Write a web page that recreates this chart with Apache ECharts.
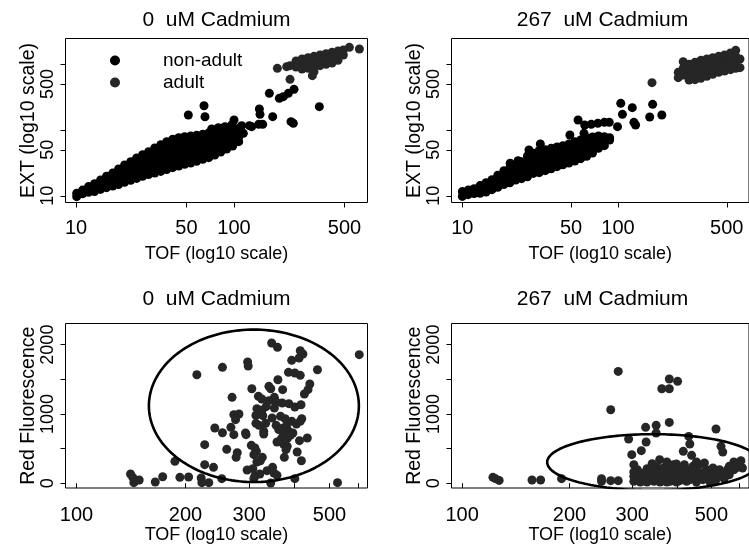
<!DOCTYPE html>
<html><head><meta charset="utf-8">
<script src="https://cdn.jsdelivr.net/npm/echarts@6/dist/echarts.min.js"></script>
<style>html,body{margin:0;padding:0;background:#fff}#c{width:749px;height:556px}</style>
</head><body><div id="c"></div>
<script>
// ---------------- tick values ----------------
const tofTopLabels = [10, 50, 100, 500];
const tofTopTicks = [10, 50, 100, 500];
const extLabels = [10, 50, 500];
const extTicks = [10, 50, 100, 500, 1000];
const tofBottomLabels = [100, 200, 300, 500];
const tofBottomTicks = [100, 200, 300, 400, 500, 600];
const redLabels = [0, 1000, 2000];
const redTicks = [0, 500, 1000, 1500, 2000];

// ---------------- 0 uM : TOF vs EXT ----------------
// dense non-adult cloud, read column by column (TOF, list of EXT)
const cd0CloudTof = [10.1, 11.0, 12.0, 13.1, 14.3, 15.6, 17.1, 18.6, 20.3, 22.2, 24.2, 26.4, 28.8, 31.5, 34.4, 37.5, 40.9, 44.7, 48.7, 53.2, 58.0, 63.4, 69.2, 75.5, 82.4, 89.9, 98.1, 107.1, 114.6];
const cd0CloudExt = [
  [10.9, 9.7], [12.2, 10.7], [13.8, 11.3], [15.3, 13.0, 11.6], [17.4, 14.6, 12.5],
  [19.8, 16.2, 13.3], [22.2, 18.4, 15.5, 14.1], [25.5, 21.2, 17.6, 14.8], [29.4, 24.1, 19.8, 16.0],
  [33.0, 27.7, 23.3, 19.5, 17.2], [37.5, 31.2, 25.8, 21.9, 18.4], [42.2, 35.0, 29.0, 24.1, 19.8],
  [46.9, 38.4, 31.5, 25.8, 21.0], [53.3, 43.2, 35.0, 27.7, 22.2], [59.8, 49.7, 41.2, 34.2, 28.4, 23.5],
  [66.5, 54.5, 44.7, 36.7, 30.1, 25.0], [72.2, 59.2, 48.5, 39.8, 32.6, 26.8], [76.4, 62.7, 51.4, 42.2, 34.6, 28.4],
  [79.2, 64.9, 53.3, 43.7, 36.2, 30.1], [81.1, 67.3, 55.8, 46.3, 38.4, 31.5], [83.0, 68.9, 57.1, 47.4, 39.3, 33.4],
  [85.9, 71.3, 59.2, 49.7, 41.7, 35.8], [90.0, 75.6, 63.5, 53.3, 44.7, 38.0], [95.4, 80.1, 67.3, 56.5, 48.5, 41.7],
  [98.9, 84.0, 71.3, 60.6, 52.0, 46.3], [102.4, 87.0, 73.0, 61.3, 51.4], [103.6, 89.0, 76.4, 65.7, 57.1],
  [106.0, 91.1, 78.3, 66.5], [89.0]
];
const cd0NonAdultExtra = [[51.4,169],[64.6,234],[65.5,159],[72.2,103.6],[79.6,108.5],[87.7,112.4],[96.7,119.1],[100,141.9],[111.8,116.4],[125.1,116.4],[129.4,112.4],[144.7,208.5],[146.1,173],[143.3,121.9],[151.9,121.9],[175.7,159.4],[167.4,360.8],[193.6,302.9],[205.3,321.1],[220.8,360.8],[239.8,415],[229.5,133.8],[237.4,126.3],[346.8,226.2]];
const cd0AdultTof = [226.2, 246.9, 269.5, 294.1, 320.9, 350.4, 382.3, 417.3, 455.3, 492.1];
const cd0AdultExt = [[950],[1119, 907],[1200, 995, 846],[1257, 1043, 865],[1317, 1093, 907, 770],[1380, 1145, 950],[1446, 1200, 995],[1515, 1257, 1043],[1587, 1348, 1145],[1644, 1380]];
const cd0AdultExtra = [[226.2,588.8],[188.1,865.3],[215.5,917.5],[313.3,669.6],[537.2,1804],[621.6,1702]];

// ---------------- 267 uM : TOF vs EXT ----------------
const cd267CloudTof = [10.0, 10.9, 11.9, 13.0, 14.2, 15.5, 16.9, 18.5, 20.2, 22.0, 24.0, 26.2, 28.6, 31.2, 34.1, 37.2, 40.6, 44.3, 48.4, 52.8, 57.6, 62.9, 68.6, 74.9, 81.8, 88.4];
const cd267CloudExt = [
  [11.6, 9.8], [12.2, 10.4], [12.8, 10.8], [14.3, 12.2, 10.9], [15.8, 13.5, 11.4],
  [17.6, 14.8, 12.4], [20.5, 16.6, 13.5], [24.1, 18.9, 14.8], [26.5, 20.5, 15.8],
  [28.7, 22.5, 17.4], [33.0, 26.2, 21.4, 18.2], [40.3, 31.9, 24.7, 19.5], [44.2, 35.0, 27.7, 21.9],
  [49.1, 39.3, 31.2, 25.3, 22.5], [50.2, 41.2, 33.8, 27.7, 24.1], [52.6, 43.2, 35.8, 29.7, 25.8],
  [55.2, 45.8, 38.0, 31.9, 27.7], [57.8, 48.5, 40.7, 34.6, 29.7], [61.3, 51.4, 43.2, 36.7, 31.5],
  [66.5, 55.8, 46.9, 39.3, 33.8], [70.5, 59.2, 49.7, 42.7, 36.7], [75.6, 63.5, 53.3, 45.8, 39.8],
  [78.3, 67.3, 55.8, 44.7], [81.1, 68.9, 59.2, 52.6], [79.2, 67.3, 57.8], [76.4, 70.5]
];
const cd267NonAdultExtra = [[20.3,31.2],[22.8,34.2],[26.8,49.7],[31.7,61.3],[49.1,84.0],[60.5,89.0],[55.4,141.9],[61.1,119.1],[67.3,121.9],[74.2,126.3],[81.8,130.8],[87.9,130.8],[99.3,112.4],[104.2,254.3],[106.8,173.0],[123.6,218.5],[126.6,130.8],[129.7,119.1],[167.0,245.5],[159.9,157.6],[191.3,169.0]];
const cd267AdultTof = [243.9, 262.4, 286.3, 312.6, 341.0, 372.2, 406.2, 443.5, 483.9, 528.1, 570.8, 608.1];
const cd267AdultExt = [[752, 624],[1093, 865, 685],[995, 807, 654, 575],[1068, 865, 702, 582],[1145, 928, 752, 610],[1200, 972, 788, 654],[1257, 1019, 826, 702],[1317, 1068, 865, 752],[1380, 1119, 907, 788],[1480, 1200, 972, 826],[1625, 1317, 1068, 865],[1200, 886]];
const cd267AdultExtra = [[165.4,524.1]];

// ---------------- TOF vs Red Fluorescence ----------------
const cd0Red = [[141,133],[143,85],[146,37],[149,46],[144,8],[165,17],[173,94],[193,85],[204,90],[221,75],[222,8],[232,8],[252,66],[187,316],[226,268],[239,229],[215,1566],[253,1672],[297,1749],[298,1691],[346,2023],[359,1961],[415,1913],[422,1865],[412,1807],[393,1773],[463,1638],[385,1600],[401,1590],[415,1557],[441,1432],[436,1350],[426,1287],[360,1494],[340,1398],[344,1364],[371,1350],[305,1364],[269,1239],[318,1254],[325,1215],[340,1191],[352,1239],[356,1172],[370,1157],[386,1148],[401,1100],[417,1133],[315,1076],[325,1052],[334,1105],[352,1085],[272,989],[281,999],[275,917],[313,979],[327,975],[347,941],[366,965],[377,931],[393,893],[405,854],[415,893],[419,931],[241,797],[253,729],[267,806],[272,701],[293,725],[294,701],[313,864],[319,835],[333,864],[329,749],[329,710],[356,835],[362,773],[372,797],[380,821],[386,749],[390,691],[396,725],[373,701],[368,643],[358,595],[382,643],[413,614],[434,652],[226,556],[260,489],[278,441],[276,373],[304,547],[311,508],[314,460],[309,412],[326,373],[322,325],[315,306],[373,566],[382,532],[379,484],[407,450],[375,373],[418,325],[348,229],[336,181],[351,147],[358,114],[307,210],[296,191],[311,104],[321,133],[309,66],[344,3],[401,66],[526,8],[604,1855]];
const cd267Red = [[122,85],[124,66],[127,41],[157,46],[166,46],[190,66],[246,66],[246,27],[261,37],[274,37],
  [274,1614],[261,1061],[381,1504],[402,1470],[363,1364],[381,1364],[381,878],[350,835],[327,806],[350,724],[515,782],[293,638],[328,595],[318,470],[299,412],[303,268],[432,676],[435,566],[532,532],[538,450],[417,460],[440,402],[444,244],[420,268],[341,282],[358,340],[375,306],[391,268],[399,277],[403,220],[454,306],[463,268],[478,292],[578,306],[605,325],[585,220],[555,195],[532,162],
  [303,162],[303,99],[303,27],[310,195],[310,51],[316,147],[316,75],[316,17],[323,123],[323,37],[330,210],[330,85],[330,17],[337,147],[337,51],[345,181],[345,99],[345,27],[352,229],[352,123],[352,37],[359,171],[359,75],[359,17],[367,220],[367,123],[367,37],[375,162],[375,75],[375,17],[383,195],[383,99],[383,27],[391,133],[391,51],[399,171],[399,85],[399,17],[408,220],[408,123],[408,37],[417,162],[417,75],[426,195],[426,99],[426,27],[435,123],[435,51],[444,162],[444,75],[454,181],[454,85],[454,17],[463,123],[473,147],[473,51],[484,195],[484,75],[494,171],[494,85],[494,27],[505,220],[505,123],[505,37],[515,162],[515,51],[527,195],[527,99],[543,147],[543,66],[561,244],[561,123],[578,195],[598,268],[611,220]];

// ellipses: [centre TOF, centre Red, half-width (log10 decades), half-height]
const cd0Ellipse = [309, 1117, 0.290, 1100];
const cd267Ellipse = [343, 303, 0.297, 405];

// ---------------- build ----------------
const L = Math.log10;
const F = '"Liberation Sans", Arial, Helvetica, sans-serif';
function fromCols(tofs, exts) {
  const out = [];
  tofs.forEach((t, i) => exts[i].forEach(e => out.push([L(t), L(e)])));
  return out;
}
const logPairs = arr => arr.map(p => [L(p[0]), L(p[1])]);
const logX = arr => arr.map(p => [L(p[0]), p[1]]);
function ellipsePts(e) {
  const pts = [];
  for (let k = 0; k <= 180; k++) {
    const a = k / 180 * 2 * Math.PI;
    pts.push([L(e[0]) + e[2] * Math.cos(a), e[1] + e[3] * Math.sin(a)]);
  }
  return pts;
}
const BLACK = '#000000', GREY = '#262626';
const SYM = 9;
function scat(name, color, xi, data) {
  return { type: 'scatter', name, xAxisIndex: xi, yAxisIndex: xi, data, symbol: 'circle', symbolSize: SYM,
    itemStyle: { color, opacity: 1 }, emphasis: { disabled: true }, silent: true, animation: false };
}
function ell(xi, e) {
  return { type: 'line', name: 'ellipse', xAxisIndex: xi, yAxisIndex: xi, data: ellipsePts(e), showSymbol: false,
    lineStyle: { color: '#000', width: 2.6 }, silent: true, animation: false, z: 3 };
}
const fmtLog = v => String(Math.round(Math.pow(10, v)));
function xAxis(gi, min, max, labels, ticks, margin, nameGap) {
  return { type: 'value', gridIndex: gi, min, max, name: 'TOF (log10 scale)', nameLocation: 'middle', nameGap,
    nameTextStyle: { color: '#000', fontFamily: F, fontSize: 18 },
    axisLine: { show: false }, splitLine: { show: false },
    axisTick: { show: true, length: 5, lineStyle: { color: '#000', width: 1 }, customValues: ticks.map(L) },
    axisLabel: { customValues: labels.map(L), formatter: fmtLog, margin, color: '#000', fontFamily: F, fontSize: 20 } };
}
function yAxis(gi, min, max, labels, ticks, isLog, name) {
  const tr = isLog ? L : (v => v);
  return { type: 'value', gridIndex: gi, min, max, name, nameLocation: 'middle', nameGap: 27,
    nameTextStyle: { color: '#000', fontFamily: F, fontSize: 19.5 },
    axisLine: { show: false }, splitLine: { show: false },
    axisTick: { show: true, length: 5, lineStyle: { color: '#000', width: 1 }, customValues: ticks.map(tr) },
    axisLabel: { customValues: labels.map(tr), formatter: isLog ? fmtLog : (v => String(Math.round(v))), rotate: 90, margin: 8,
      color: '#000', fontFamily: F, fontSize: 18 } };
}
const gridBase = { show: true, borderColor: '#000', borderWidth: 1, backgroundColor: 'transparent', containLabel: false };
const option = {
  backgroundColor: '#fff',
  animation: false,
  title: [
    { text: '0  uM Cadmium', left: 216.5, top: 10 },
    { text: '267  uM Cadmium', left: 602.5, top: 10 },
    { text: '0  uM Cadmium', left: 216.5, top: 289 },
    { text: '267  uM Cadmium', left: 602.5, top: 289 }
  ].map(t => Object.assign({ textAlign: 'center', padding: 0, textStyle: { color: '#000', fontFamily: F, fontSize: 21, fontWeight: 'normal' } }, t)),
  legend: { data: ['non-adult', 'adult'], orient: 'vertical', left: 110, top: 51, padding: 0, itemWidth: 10, itemHeight: 10, itemGap: 3,
    icon: 'circle', selectedMode: false, formatter: '{s| }{name}',
    textStyle: { color: '#000', fontFamily: F, fontSize: 19, rich: { s: { width: 38 } } } },
  grid: [
    Object.assign({ left: 65.5, top: 38.5, width: 302, height: 164 }, gridBase),
    Object.assign({ left: 451.5, top: 38.5, width: 302, height: 164 }, gridBase),
    Object.assign({ left: 65.5, top: 323.5, width: 302, height: 164.5 }, gridBase),
    Object.assign({ left: 451.5, top: 323.5, width: 302, height: 164.5 }, gridBase)
  ],
  xAxis: [
    xAxis(0, 0.9335, 2.8449, tofTopLabels, tofTopTicks, 16, 43),
    xAxis(1, 0.9304, 2.8418, tofTopLabels, tofTopTicks, 16, 43),
    xAxis(2, 1.9696, 2.8038, tofBottomLabels, tofBottomTicks, 17, 38),
    xAxis(3, 1.9702, 2.8044, tofBottomLabels, tofBottomTicks, 17, 38)
  ],
  yAxis: [
    yAxis(0, 0.8982, 3.3906, extLabels, extTicks, true, 'EXT (log10 scale)'),
    yAxis(1, 0.8982, 3.3906, extLabels, extTicks, true, 'EXT (log10 scale)'),
    yAxis(2, -69, 2305, redLabels, redTicks, false, 'Red Fluorescence'),
    yAxis(3, -69, 2305, redLabels, redTicks, false, 'Red Fluorescence')
  ],
  series: [
    scat('non-adult', BLACK, 0, fromCols(cd0CloudTof, cd0CloudExt).concat(logPairs(cd0NonAdultExtra))),
    scat('adult', GREY, 0, fromCols(cd0AdultTof, cd0AdultExt).concat(logPairs(cd0AdultExtra))),
    scat('non-adult', BLACK, 1, fromCols(cd267CloudTof, cd267CloudExt).concat(logPairs(cd267NonAdultExtra))),
    scat('adult', GREY, 1, fromCols(cd267AdultTof, cd267AdultExt).concat(logPairs(cd267AdultExtra))),
    scat('adult', GREY, 2, logX(cd0Red)),
    scat('adult', GREY, 3, logX(cd267Red)),
    ell(2, cd0Ellipse),
    ell(3, cd267Ellipse)
  ]
};
const chart = echarts.init(document.getElementById('c'), null, { renderer: 'canvas' });
chart.setOption(option);
</script>
</body></html>
